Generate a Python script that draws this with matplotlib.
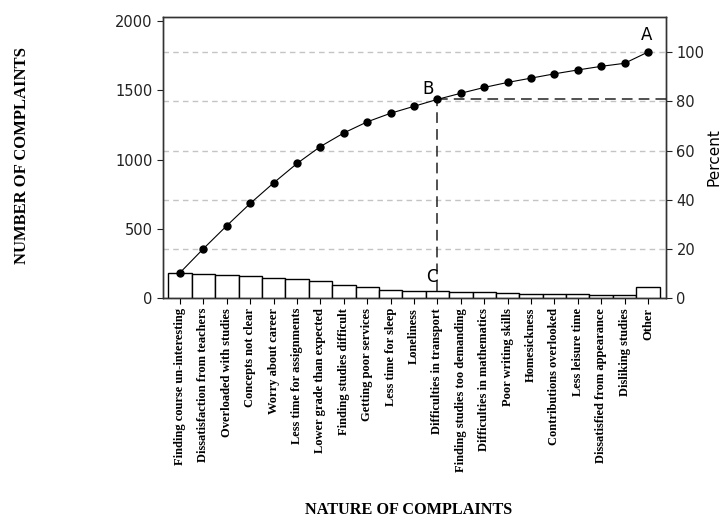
import matplotlib
matplotlib.use('Agg')
import matplotlib.pyplot as plt
import numpy as np

categories = ['Finding course un-interesting', 'Dissatisfaction from teachers',
              'Overloaded with studies', 'Concepts not clear', 'Worry about career',
              'Less time for assignments', 'Lower grade than expected',
              'Finding studies difficult', 'Getting poor services', 'Less time for sleep',
              'Loneliness', 'Difficulties in transport', 'Finding studies too demanding',
              'Difficulties in mathematics', 'Poor writing skills', 'Homesickness',
              'Contributions overlooked', 'Less leisure time',
              'Dissatisfied from appearance', 'Disliking studies', 'Other']
counts = [185, 173, 166, 160, 148, 140, 122, 98, 80, 62, 50, 50, 44, 42, 36, 31, 31,
          28, 26, 22, 81]
count_ticks = [0, 500, 1000, 1500, 2000]
percent_ticks = [0, 20, 40, 60, 80, 100]
mark_idx = 11  # point B / C

counts = np.array(counts)
cum = np.cumsum(counts)
total = cum[-1]
x = np.arange(len(categories))
ytop = 2030

fig = plt.figure(figsize=(7.25, 5.18), dpi=100)
ax = fig.add_axes([0.2248, 0.4241, 0.6938, 0.5437])
ax2 = ax.twinx()
ax.set_zorder(ax2.get_zorder() + 1)
ax.patch.set_visible(False)

ax.bar(x, counts, width=1.0, color='white', edgecolor='black', linewidth=1.0, zorder=2)
ax.plot(x, cum, color='black', linewidth=0.8, marker='o', markersize=5, zorder=4)

# dashed guide lines through B
ax.plot([mark_idx, mark_idx], [counts[mark_idx], cum[mark_idx]], color='#222222',
        linewidth=1.1, dashes=(7, 4), zorder=3)
ax.plot([mark_idx, 20.77], [cum[mark_idx], cum[mark_idx]], color='#222222',
        linewidth=1.1, dashes=(7, 4), zorder=3)

ax.annotate('A', (x[-1], cum[-1]), xytext=(-1, 17), textcoords='offset pixels',
            ha='center', va='center', fontsize=12)
ax.annotate('B', (mark_idx, cum[mark_idx]), xytext=(-9, 10), textcoords='offset pixels',
            ha='center', va='center', fontsize=12)
ax.annotate('C', (mark_idx, counts[mark_idx]), xytext=(-6, 14), textcoords='offset pixels',
            ha='center', va='center', fontsize=12)

ax.set_xlim(-0.73, 20.77)
ax.set_ylim(0, ytop)
ax.set_yticks(count_ticks)
ax.tick_params(axis='y', labelsize=10.5, length=4, colors='#222222')
ax.set_xticks(x)
ax.set_xticklabels(categories, rotation=90, fontsize=9, family='Liberation Serif',
                   fontweight='bold')
ax.tick_params(axis='x', length=4, pad=3)

ax2.set_ylim(0, ytop / total * 100)
ax2.set_yticks(percent_ticks)
ax2.tick_params(axis='y', labelsize=10.5, length=4, colors='#222222')
ax2.grid(axis='y', linestyle=(0, (4, 3)), color='#c4c4c4', linewidth=1.0)

for a in (ax, ax2):
    for s in a.spines.values():
        s.set_color('#333333')
        s.set_linewidth(1.0)

fig.text(0.030, 0.699, 'NUMBER OF COMPLAINTS', rotation=90, ha='center', va='center',
         family='Liberation Serif', fontweight='bold', fontsize=12)
fig.text(0.564, 0.0155, 'NATURE OF COMPLAINTS', ha='center', va='center',
         family='Liberation Serif', fontweight='bold', fontsize=11.7)
fig.text(0.974, 0.697, 'Percent', rotation=90, ha='left', va='center', fontsize=11)

fig.savefig('out.png', dpi=100)
